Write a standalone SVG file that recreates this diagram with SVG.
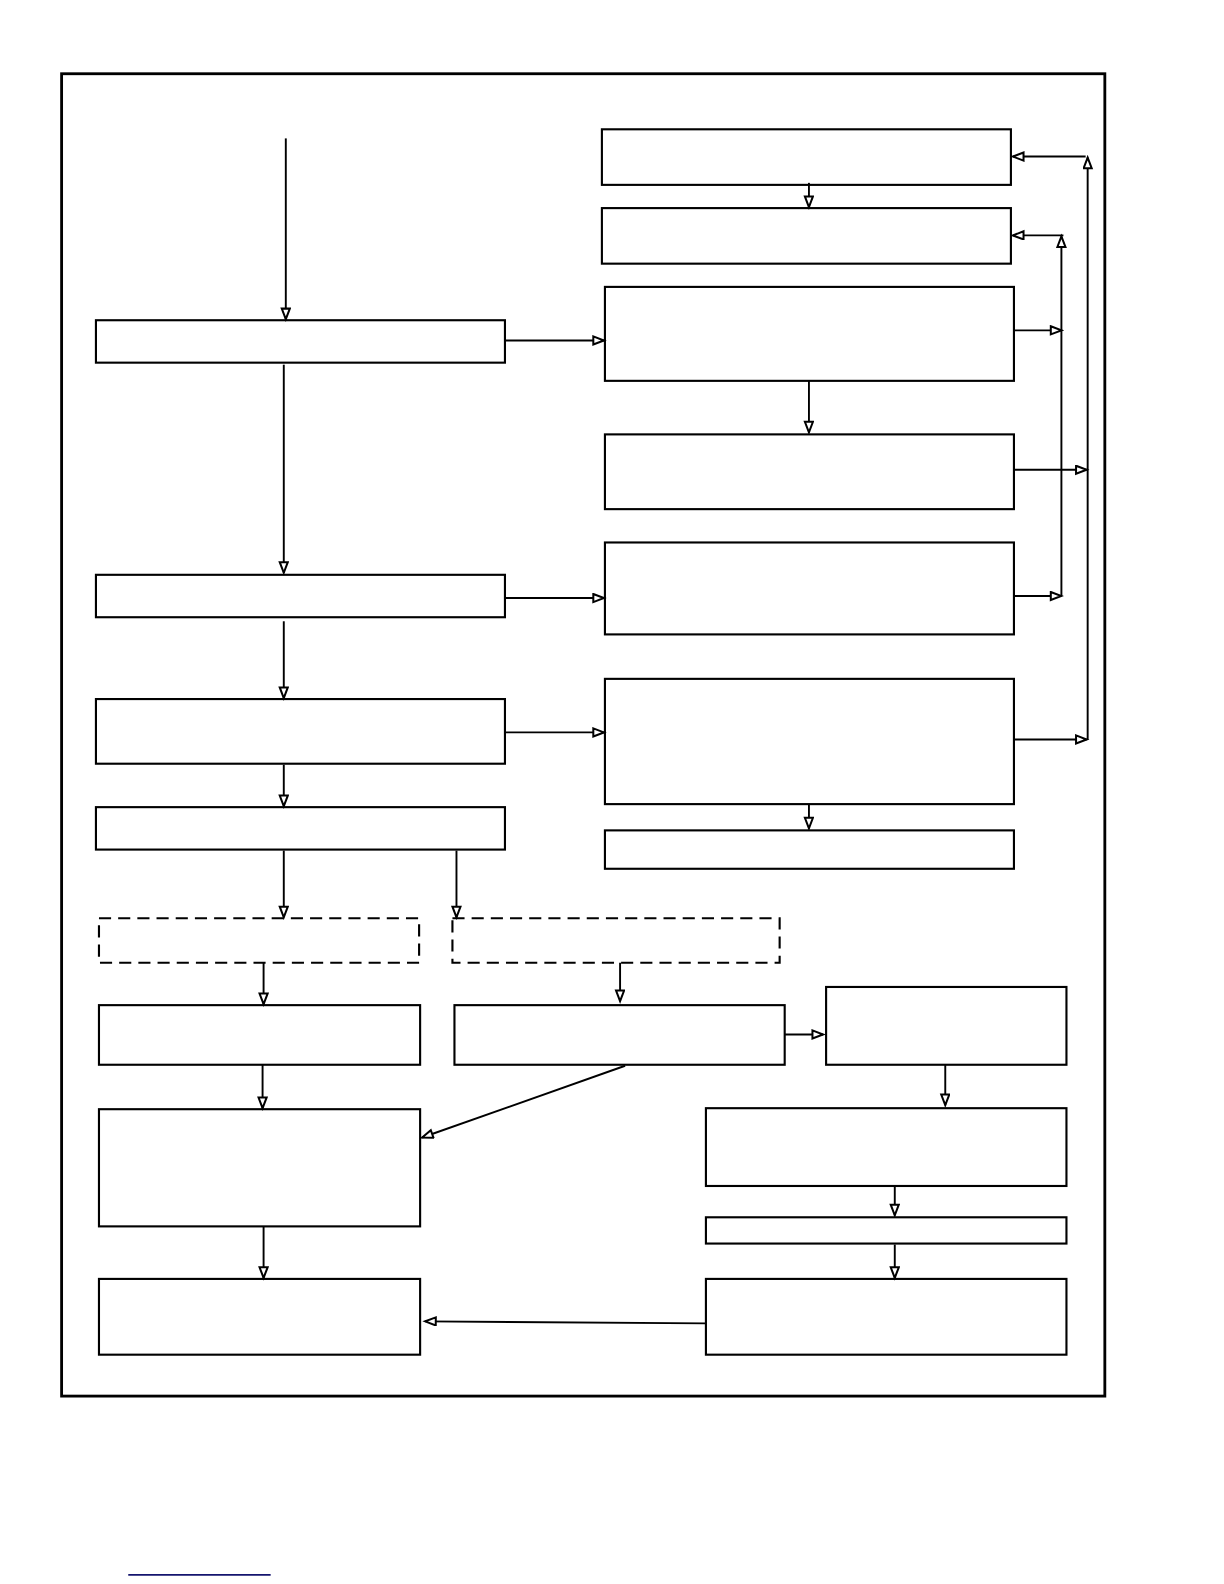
<svg xmlns="http://www.w3.org/2000/svg" width="1224" height="1584" viewBox="0 0 1224 1584">
<style>
.box{fill:#fff;stroke:#000;stroke-width:2.1}
.dash{fill:#fff;stroke:#000;stroke-width:2.1;stroke-dasharray:12 7}
.c{fill:none;stroke:#000;stroke-width:1.9}
</style>
<defs>
<marker id="ah" markerUnits="userSpaceOnUse" markerWidth="15" markerHeight="11" refX="12" refY="5" orient="auto">
<path d="M1.5,1 L12,5 L1.5,9 Z" fill="#fff" stroke="#000" stroke-width="2"/>
</marker>
</defs>
<rect x="0" y="0" width="1224" height="1584" fill="#fff"/>
<g transform="scale(1.0099,1.0102)">
<rect id="frame" x="61" y="73" width="1033" height="1309" fill="none" stroke="#000" stroke-width="2.8"/>
<g id="nodes">
<g id="nA"><rect class="box" x="95" y="317" width="405" height="42"/></g>
<g id="nB"><rect class="box" x="95" y="569" width="405" height="42"/></g>
<g id="nC"><rect class="box" x="95" y="692" width="405" height="64"/></g>
<g id="nD"><rect class="box" x="95" y="799" width="405" height="42"/></g>
<g id="nE"><rect class="dash" x="98" y="909" width="317" height="44"/></g>
<g id="nF"><rect class="dash" x="448" y="909" width="324" height="44"/></g>
<g id="nG"><rect class="box" x="98" y="995" width="318" height="59"/></g>
<g id="nH"><rect class="box" x="450" y="995" width="327" height="59"/></g>
<g id="nI"><rect class="box" x="818" y="977" width="238" height="77"/></g>
<g id="nJ"><rect class="box" x="98" y="1098" width="318" height="116"/></g>
<g id="nK"><rect class="box" x="699" y="1097" width="357" height="77"/></g>
<g id="nL"><rect class="box" x="699" y="1205" width="357" height="26"/></g>
<g id="nM"><rect class="box" x="699" y="1266" width="357" height="75"/></g>
<g id="nN"><rect class="box" x="98" y="1266" width="318" height="75"/></g>
<g id="r1"><rect class="box" x="596" y="128" width="405" height="55"/></g>
<g id="r2"><rect class="box" x="596" y="206" width="405" height="55"/></g>
<g id="r3"><rect class="box" x="599" y="284" width="405" height="93"/></g>
<g id="r4"><rect class="box" x="599" y="430" width="405" height="74"/></g>
<g id="r5"><rect class="box" x="599" y="537" width="405" height="91"/></g>
<g id="r6"><rect class="box" x="599" y="672" width="405" height="124"/></g>
<g id="r7"><rect class="box" x="599" y="822" width="405" height="38"/></g>
</g>
<g id="connectors">
<line class="c" x1="283" y1="137" x2="283" y2="316" marker-end="url(#ah)"/>
<line class="c" x1="281" y1="361" x2="281" y2="567" marker-end="url(#ah)"/>
<line class="c" x1="281" y1="615" x2="281" y2="691" marker-end="url(#ah)"/>
<line class="c" x1="281" y1="757" x2="281" y2="798" marker-end="url(#ah)"/>
<line class="c" x1="281" y1="842" x2="281" y2="908" marker-end="url(#ah)"/>
<line class="c" x1="452" y1="842" x2="452" y2="908" marker-end="url(#ah)"/>
<line class="c" x1="261" y1="953" x2="261" y2="994" marker-end="url(#ah)"/>
<line class="c" x1="614" y1="953" x2="614" y2="991" marker-end="url(#ah)"/>
<line class="c" x1="777" y1="1024" x2="815" y2="1024" marker-end="url(#ah)"/>
<line class="c" x1="260" y1="1054" x2="260" y2="1097" marker-end="url(#ah)"/>
<line class="c" x1="619" y1="1055" x2="418" y2="1126" marker-end="url(#ah)"/>
<line class="c" x1="936" y1="1054" x2="936" y2="1094" marker-end="url(#ah)"/>
<line class="c" x1="886" y1="1174" x2="886" y2="1203" marker-end="url(#ah)"/>
<line class="c" x1="886" y1="1232" x2="886" y2="1265" marker-end="url(#ah)"/>
<line class="c" x1="699" y1="1310" x2="421" y2="1308" marker-end="url(#ah)"/>
<line class="c" x1="261" y1="1214" x2="261" y2="1265" marker-end="url(#ah)"/>
<line class="c" x1="801" y1="181" x2="801" y2="205" marker-end="url(#ah)"/>
<line class="c" x1="801" y1="377" x2="801" y2="428" marker-end="url(#ah)"/>
<line class="c" x1="801" y1="796" x2="801" y2="820" marker-end="url(#ah)"/>
<line class="c" x1="500" y1="337" x2="598" y2="337" marker-end="url(#ah)"/>
<line class="c" x1="500" y1="592" x2="598" y2="592" marker-end="url(#ah)"/>
<line class="c" x1="500" y1="725" x2="598" y2="725" marker-end="url(#ah)"/>
<line class="c" x1="1004" y1="327" x2="1051" y2="327" marker-end="url(#ah)"/>
<line class="c" x1="1004" y1="590" x2="1051" y2="590" marker-end="url(#ah)"/>
<line class="c" x1="1051" y1="590" x2="1051" y2="234" marker-end="url(#ah)"/>
<line class="c" x1="1053" y1="233" x2="1003" y2="233" marker-end="url(#ah)"/>
<line class="c" x1="1004" y1="465" x2="1076" y2="465" marker-end="url(#ah)"/>
<line class="c" x1="1004" y1="732" x2="1076" y2="732" marker-end="url(#ah)"/>
<line class="c" x1="1077" y1="732" x2="1077" y2="156" marker-end="url(#ah)"/>
<line class="c" x1="1075" y1="155" x2="1003" y2="155" marker-end="url(#ah)"/>
</g>
<line x1="127" y1="1559" x2="268" y2="1559" stroke="#14146e" stroke-width="1.8"/>
</g>
</svg>
